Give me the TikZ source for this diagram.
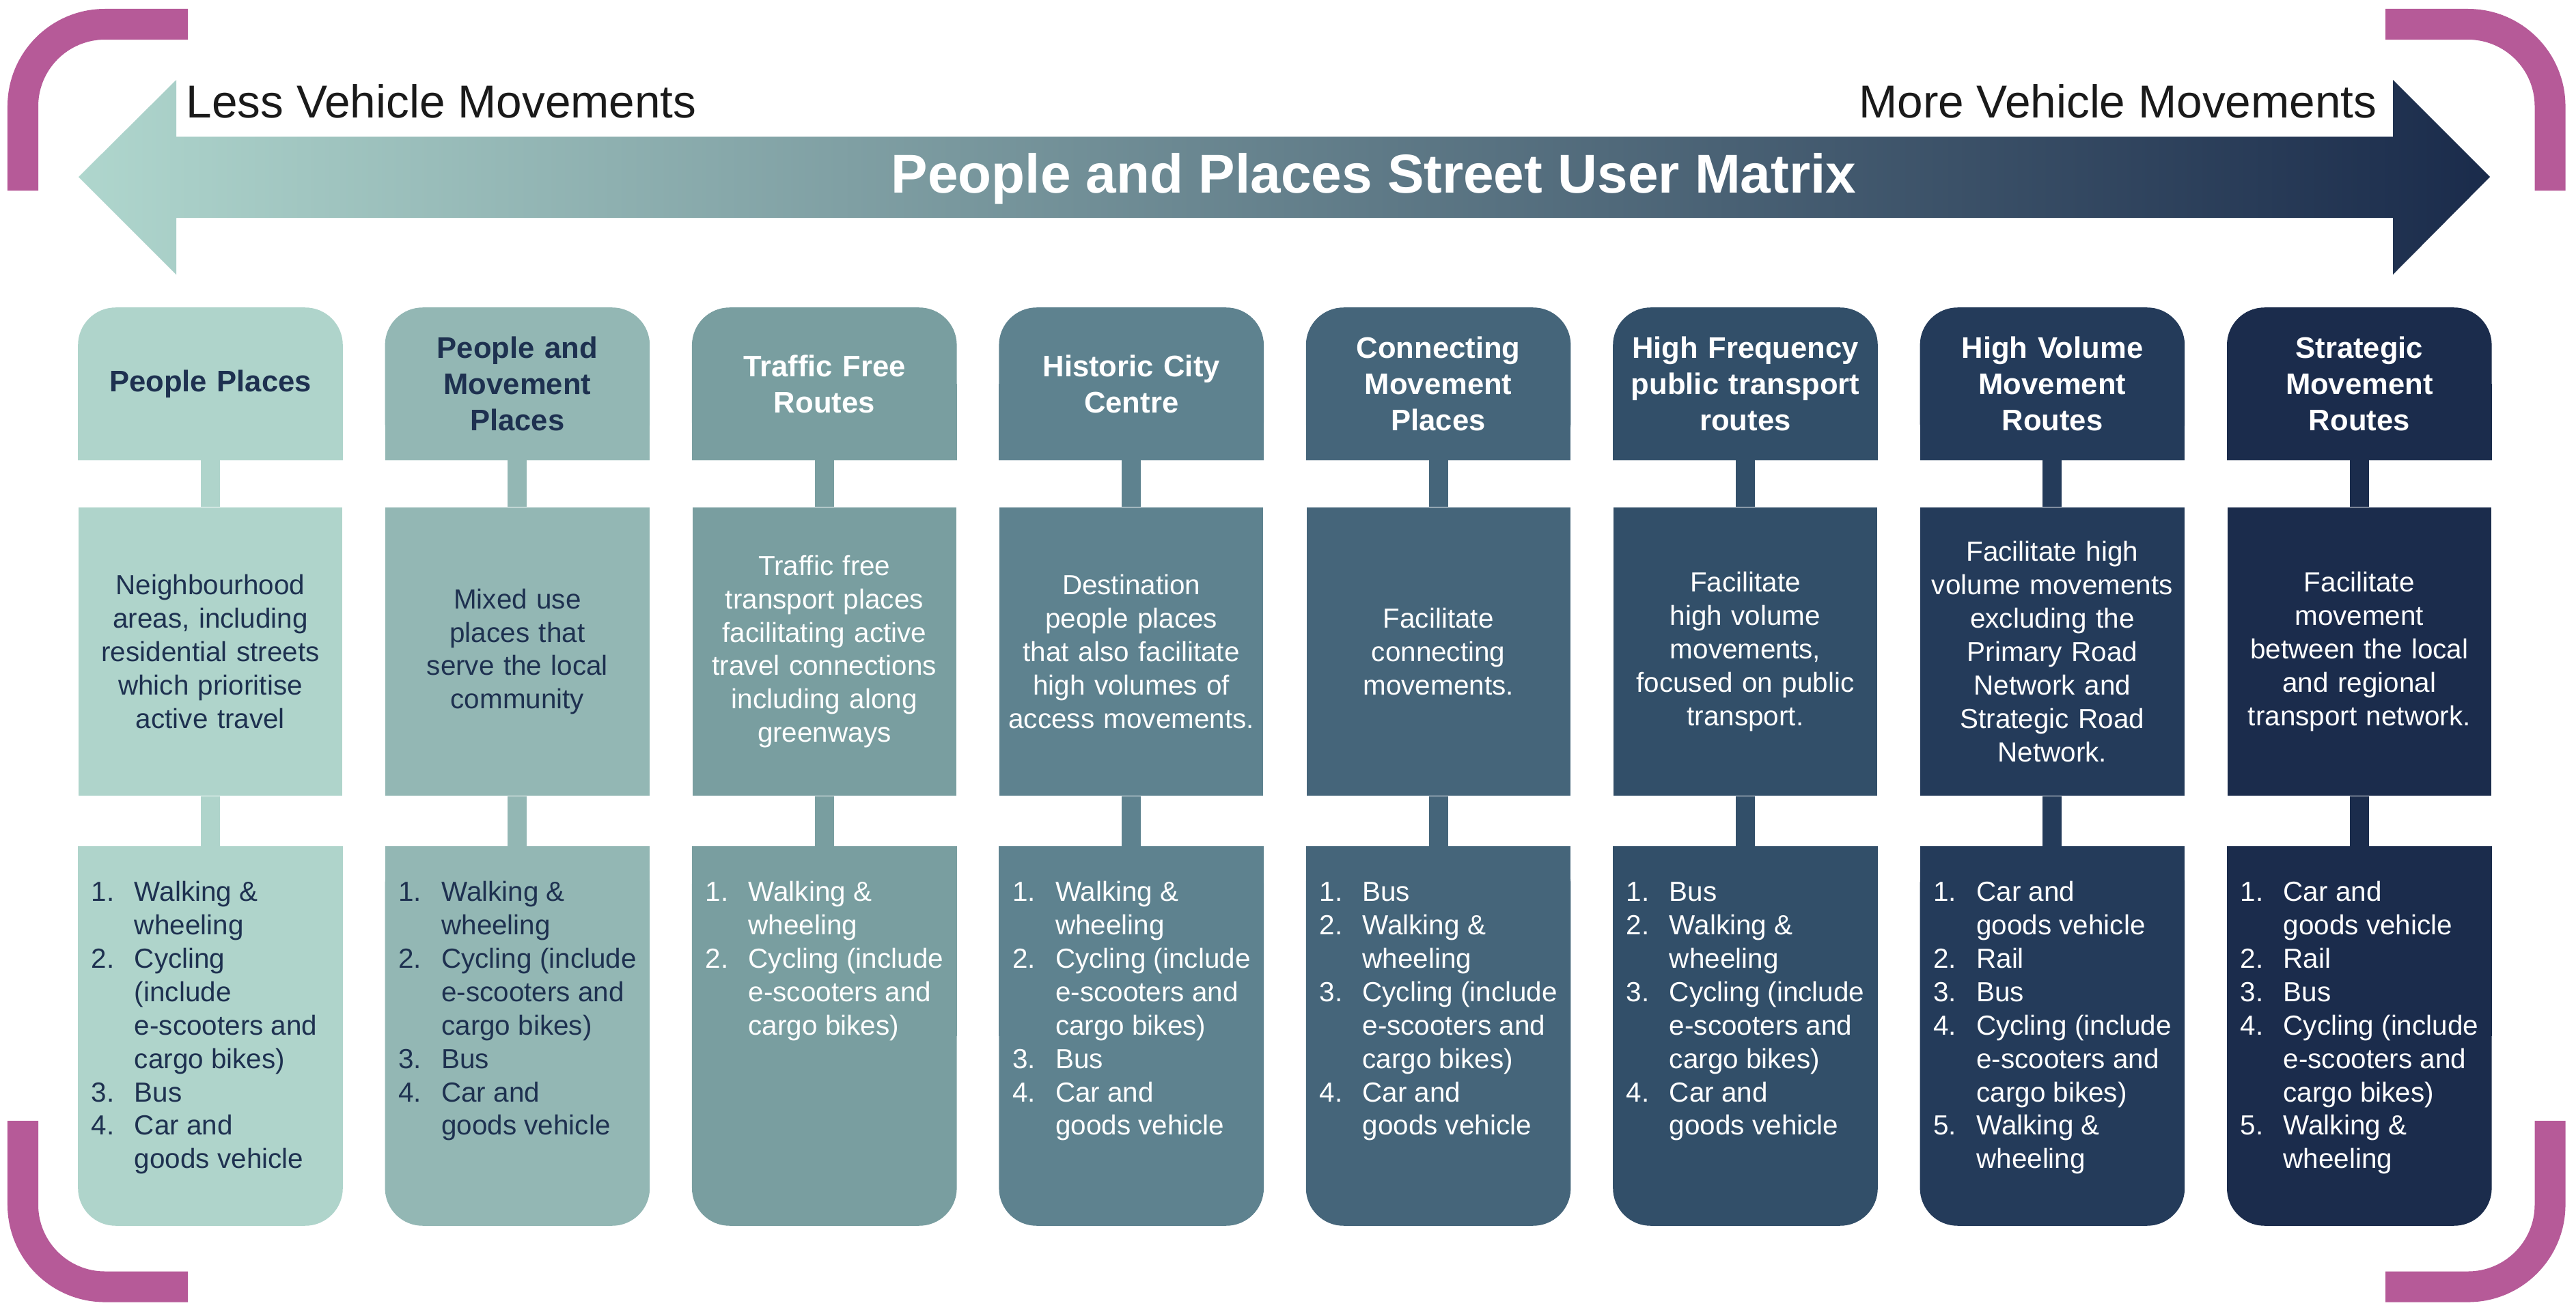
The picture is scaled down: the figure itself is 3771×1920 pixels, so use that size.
\documentclass[tikz,border=0pt]{standalone}
\usepackage{fontspec}
\setmainfont{Liberation Sans}
\usetikzlibrary{backgrounds}

\definecolor{colA}{HTML}{AFD4CB}
\definecolor{colB}{HTML}{93B7B4}
\definecolor{colC}{HTML}{799EA0}
\definecolor{colD}{HTML}{5E828F}
\definecolor{colE}{HTML}{45657A}
\definecolor{colF}{HTML}{324F69}
\definecolor{colG}{HTML}{243B5A}
\definecolor{colH}{HTML}{1B2C4C}
\definecolor{navytext}{HTML}{1E3150}
\definecolor{labelblack}{HTML}{1A1A1A}
\definecolor{arrowlight}{HTML}{AFD6CD}
\definecolor{arrowdark}{HTML}{1A2B4B}
\definecolor{bracketpurple}{HTML}{B65A98}

\tikzset{
	headbox/.style={minimum width=3.86cm, minimum height=2.22cm, inner sep=0pt, text width=3.7cm, align=center, font=\fontsize{12.4}{15.1}\selectfont\bfseries},
	descbox/.style={minimum width=3.86cm, minimum height=4.22cm, inner sep=0pt, text width=3.84cm, align=center, font=\fontsize{11.5}{13.9}\selectfont},
	listbox/.style={anchor=north, inner sep=0pt, font=\fontsize{11.5}{13.9}\selectfont},
	stem/.style={line width=0.28cm},
	bracket/.style={bracketpurple, line width=0.45cm, rounded corners=1.2cm},
	sidelabel/.style={inner sep=0pt, text=labelblack, font=\fontsize{19.2}{23}\selectfont},
}

% numbered line and continuation line of a list
\newcommand\lnum[2]{\hspace*{0.19cm}\makebox[0.63cm][l]{#1}#2\par}
\newcommand\lcont[1]{\hspace*{0.82cm}#1\par}

% one column: #1 name, #2 centre x, #3 fill, #4 text colour, #5 header, #6 description, #7 list
\newcommand\streetcol[7]{%
	\node[headbox, text=#4] (head#1) at (#2, 562) {#5};
	\node[descbox, fill=#3, text=#4] (desc#1) at (#2, 954) {#6};
	\node[listbox, text=#4] (list#1) at (#2, 1239) {\parbox[t][5.54cm][t]{3.86cm}{\parskip=0pt\raggedright\rule{0pt}{0.8cm}#7}};
	\begin{scope}[on background layer]
		\fill[#3, rounded corners=0.55cm] (head#1.north west) rectangle (head#1.south east);
		\fill[#3] (head#1.west) rectangle (head#1.south east);
		\fill[#3, rounded corners=0.55cm] (list#1.north west) rectangle (list#1.south east);
		\fill[#3] (list#1.north west) rectangle (list#1.east);
		\draw[stem, #3] (head#1.south) -- (desc#1.north);
		\draw[stem, #3] (desc#1.south) -- (list#1.north);
	\end{scope}
}

\begin{document}
\begin{tikzpicture}[x=0.01cm, y=-0.01cm]
			%%%%% START %%%%%
			
			\useasboundingbox (0, 0) rectangle (3771, 1920);
			
			\draw[bracket] (275, 35.5) -- (33.5, 35.5) -- (33.5, 279);
			\draw[bracket] (3492, 35.5) -- (3733, 35.5) -- (3733, 279);
			\draw[bracket] (33.5, 1641) -- (33.5, 1884) -- (275, 1884);
			\draw[bracket] (3733, 1641) -- (3733, 1884) -- (3492, 1884);
			
			\shade[left color=arrowlight, right color=arrowdark] (115, 259) -- (258, 117) -- (258, 200) -- (3503, 200) -- (3503, 117) -- (3645, 259) -- (3503, 402) -- (3503, 319) -- (258, 319) -- (258, 402) -- cycle;
			\node[inner sep=0pt, anchor=base, text=white, font=\fontsize{22.8}{27}\selectfont\bfseries] (title) at (2011, 282) {People and Places Street User Matrix};
			\node[sidelabel, anchor=base west] (less) at (272, 172) {Less Vehicle Movements};
			\node[sidelabel, anchor=base east] (more) at (3480, 172) {More Vehicle Movements};
			
			\streetcol{1}{308}{colA}{navytext}{People Places}
				{Neighbourhood\\areas, including\\residential streets\\which prioritise\\active travel}
				{\lnum{1.}{Walking \&}\lcont{wheeling}\lnum{2.}{Cycling}\lcont{(include}\lcont{e-scooters and}\lcont{cargo bikes)}\lnum{3.}{Bus}\lnum{4.}{Car and}\lcont{goods vehicle}}
			
			\streetcol{2}{757.4}{colB}{navytext}{People and\\Movement\\Places}
				{Mixed use\\places that\\serve the local\\community}
				{\lnum{1.}{Walking \&}\lcont{wheeling}\lnum{2.}{Cycling (include}\lcont{e-scooters and}\lcont{cargo bikes)}\lnum{3.}{Bus}\lnum{4.}{Car and}\lcont{goods vehicle}}
			
			\streetcol{3}{1206.8}{colC}{white}{Traffic Free\\Routes}
				{Traffic free\\transport places\\facilitating active\\travel connections\\including along\\greenways}
				{\lnum{1.}{Walking \&}\lcont{wheeling}\lnum{2.}{Cycling (include}\lcont{e-scooters and}\lcont{cargo bikes)}}
			
			\streetcol{4}{1656.2}{colD}{white}{Historic City\\Centre}
				{Destination\\people places\\that also facilitate\\high volumes of\\access movements.}
				{\lnum{1.}{Walking \&}\lcont{wheeling}\lnum{2.}{Cycling (include}\lcont{e-scooters and}\lcont{cargo bikes)}\lnum{3.}{Bus}\lnum{4.}{Car and}\lcont{goods vehicle}}
			
			\streetcol{5}{2105.6}{colE}{white}{Connecting\\Movement\\Places}
				{Facilitate\\connecting\\movements.}
				{\lnum{1.}{Bus}\lnum{2.}{Walking \&}\lcont{wheeling}\lnum{3.}{Cycling (include}\lcont{e-scooters and}\lcont{cargo bikes)}\lnum{4.}{Car and}\lcont{goods vehicle}}
			
			\streetcol{6}{2555}{colF}{white}{High Frequency\\public transport\\routes}
				{Facilitate\\high volume\\movements,\\focused on public\\transport.}
				{\lnum{1.}{Bus}\lnum{2.}{Walking \&}\lcont{wheeling}\lnum{3.}{Cycling (include}\lcont{e-scooters and}\lcont{cargo bikes)}\lnum{4.}{Car and}\lcont{goods vehicle}}
			
			\streetcol{7}{3004.4}{colG}{white}{High Volume\\Movement\\Routes}
				{Facilitate high\\volume movements\\excluding the\\Primary Road\\Network and\\Strategic Road\\Network.}
				{\lnum{1.}{Car and}\lcont{goods vehicle}\lnum{2.}{Rail}\lnum{3.}{Bus}\lnum{4.}{Cycling (include}\lcont{e-scooters and}\lcont{cargo bikes)}\lnum{5.}{Walking \&}\lcont{wheeling}}
			
			\streetcol{8}{3453.8}{colH}{white}{Strategic\\Movement\\Routes}
				{Facilitate\\movement\\between the local\\and regional\\transport network.}
				{\lnum{1.}{Car and}\lcont{goods vehicle}\lnum{2.}{Rail}\lnum{3.}{Bus}\lnum{4.}{Cycling (include}\lcont{e-scooters and}\lcont{cargo bikes)}\lnum{5.}{Walking \&}\lcont{wheeling}}
			
			%%%%% END %%%%%
		\end{tikzpicture}
\end{document}
